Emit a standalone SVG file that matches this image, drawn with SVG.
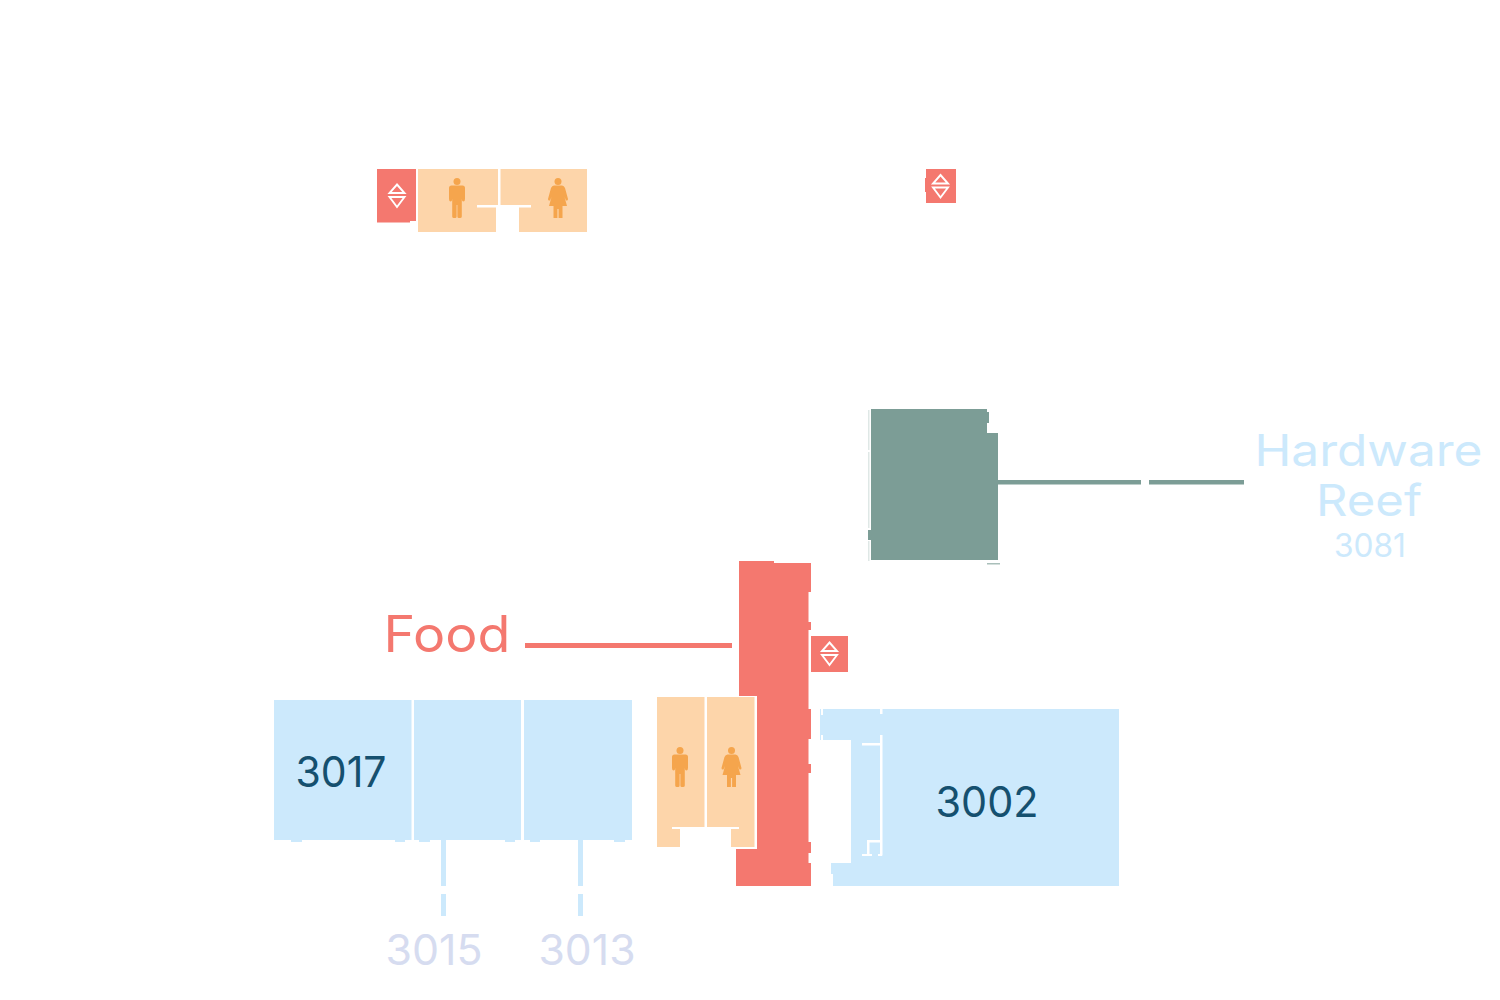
<svg xmlns="http://www.w3.org/2000/svg" xmlns:xlink="http://www.w3.org/1999/xlink" width="1500" height="1000" viewBox="0 0 1500 1000">
<style>
.food{fill:#f4786f}
.wc{fill:#fdd5aa}
.ret{fill:#cce9fc}
.tech{fill:#7c9d96}
.wall{fill:#fff}
.pic{fill:#f5a54d}
.lift{fill:none;stroke:#fff;stroke-width:1.9}
text{font-family:"Inter","Noto Sans","Liberation Sans",sans-serif;text-anchor:middle}
</style>
<defs>
<g id="lift-icon">
<path class="lift" d="M0-11L7.500-2.500H-7.500ZM-7.500 1.500H7.500L0 11.500Z"/>
</g>
<g id="man">
<circle class="pic" cx="0" cy="3.500" r="3.500"/>
<path class="pic" d="M-5.500 7.500H5.500Q8 7.500 8 10V21Q8 23.500 6.300 23.500Q5 23.500 4.800 21V38.500Q4.800 40 3 40H1.800Q.4 40 .4 38.500V27H-.4V38.500Q-.4 40-1.800 40H-3Q-4.800 40-4.800 38.500V21Q-5 23.500-6.300 23.500Q-8 23.500-8 21V10Q-8 7.500-5.500 7.500Z"/>
</g>
<g id="woman">
<circle class="pic" cx="0" cy="3.500" r="3.500"/>
<path class="pic" d="M-4 7.500H4Q6 7.500 7 10L10 21Q10 23 8 22.500L6.500 19L9 28H4.500V40H.6V31H-.6V40H-4.500V28H-9L-6.500 19L-8 22.500Q-10 23-10 21L-7 10Q-6 7.500-4 7.500Z"/>
</g>
</defs>

<g id="connectors">
<rect class="tech" x="998" y="480" width="143" height="4.500"/>
<rect class="tech" x="1149" y="480" width="95" height="4.500"/>
<rect class="food" x="525" y="643" width="207" height="5"/>
<rect class="ret" x="441" y="840" width="5" height="46"/>
<rect class="ret" x="441" y="894" width="5" height="22"/>
<rect class="ret" x="578" y="840" width="5" height="46"/>
<rect class="ret" x="578" y="894" width="5" height="22"/>
</g>

<g id="lift-1">
<path class="food" d="M377 169H416V221H410V222.500H377Z"/>
<use href="#lift-icon" x="397" y="195.500"/>
</g>

<g id="toilets-north">
<path class="wc" d="M418 169H587V232H519V207H496V232H418Z"/>
<rect class="wall" x="498" y="169" width="2.500" height="37"/>
<rect class="wall" x="477" y="205" width="54" height="2.500"/>
<use href="#man" x="457" y="178"/>
<use href="#woman" x="558" y="178"/>
</g>

<g id="lift-2">
<path class="food" d="M926 169H956V203H926V192H925V178H926Z"/>
<use href="#lift-icon" x="940.500" y="186"/>
</g>

<g id="hardware-reef">
<path class="tech" d="M871 409H987V412H989V423H987V433H998V560H871V540H868V530H871Z"/>
<rect x="868" y="410" width="1.500" height="40" fill="#dfe8e6"/>
<rect x="868" y="452" width="1.500" height="76" fill="#dfe8e6"/>
<rect x="868" y="541" width="1.500" height="20" fill="#dfe8e6"/>
<rect x="987" y="563" width="13" height="1.500" fill="#a9bfba"/>
<text x="1368.500" y="466" font-size="44" fill="#cce9fc" textLength="228" lengthAdjust="spacingAndGlyphs">Hardware</text>
<text x="1369" y="516" font-size="44" fill="#cce9fc" textLength="106" lengthAdjust="spacingAndGlyphs">Reef</text>
<text x="1370" y="557" font-size="32" fill="#cce9fc" textLength="72" lengthAdjust="spacingAndGlyphs">3081</text>
</g>

<g id="food">
<path class="food" d="M739 561H774V563H811V592H808.500V622H811V630H808.500V709H811V739H808.500V764H811V773H808.500V842H811V853H808.500V863H811V886H736V849H757V696H739Z"/>
<text x="447" y="652" font-size="50" fill="#f4786f" textLength="127" lengthAdjust="spacingAndGlyphs">Food</text>
</g>

<g id="lift-3">
<rect class="food" x="811" y="636" width="37" height="36"/>
<use href="#lift-icon" x="829.500" y="653.500"/>
</g>

<g id="toilets-south">
<path class="wc" d="M657 697H754.500V847H731V829H739V827H672V829H680V847H657Z"/>
<rect class="wall" x="704.500" y="697" width="2.500" height="130"/>
<use href="#man" x="680" y="747"/>
<use href="#woman" x="731.500" y="747"/>
</g>

<g id="room-3017">
<path class="ret" d="M274 700H411.500V840H405V842H395V840H302V842H291V840H274Z"/>
<text x="341" y="787" font-size="42" fill="#15506f" textLength="91" lengthAdjust="spacingAndGlyphs">3017</text>
</g>
<g id="room-3015">
<path class="ret" d="M414 700H521V840H515V842H505V840H430V842H419V840H414Z"/>
<text x="434" y="965" font-size="42" fill="#d6dcf0" textLength="97" lengthAdjust="spacingAndGlyphs">3015</text>
</g>
<g id="room-3013">
<path class="ret" d="M524 700H632V840H625V842H614V840H540V842H530V840H524Z"/>
<text x="587" y="965" font-size="42" fill="#d6dcf0" textLength="97" lengthAdjust="spacingAndGlyphs">3013</text>
</g>

<g id="room-3002">
<path class="ret" d="M820 709H1119V886H831V863H851V740H820Z"/>
<rect class="wall" x="821" y="709" width="2" height="6"/>
<rect class="wall" x="821" y="735" width="2" height="5"/>
<rect class="wall" x="831" y="874" width="2" height="12"/>
<rect class="wall" x="880" y="709" width="2.500" height="5"/>
<rect class="wall" x="880" y="735" width="2.500" height="120.500"/>
<rect class="wall" x="862" y="743" width="18" height="2.500"/>
<path class="wall" d="M867 840H880V842.500H869.500V854H872V856H862V854H867ZM878 854H882V856H878Z"/>
<text x="987" y="817" font-size="42" fill="#15506f" textLength="103" lengthAdjust="spacingAndGlyphs">3002</text>
</g>
</svg>
